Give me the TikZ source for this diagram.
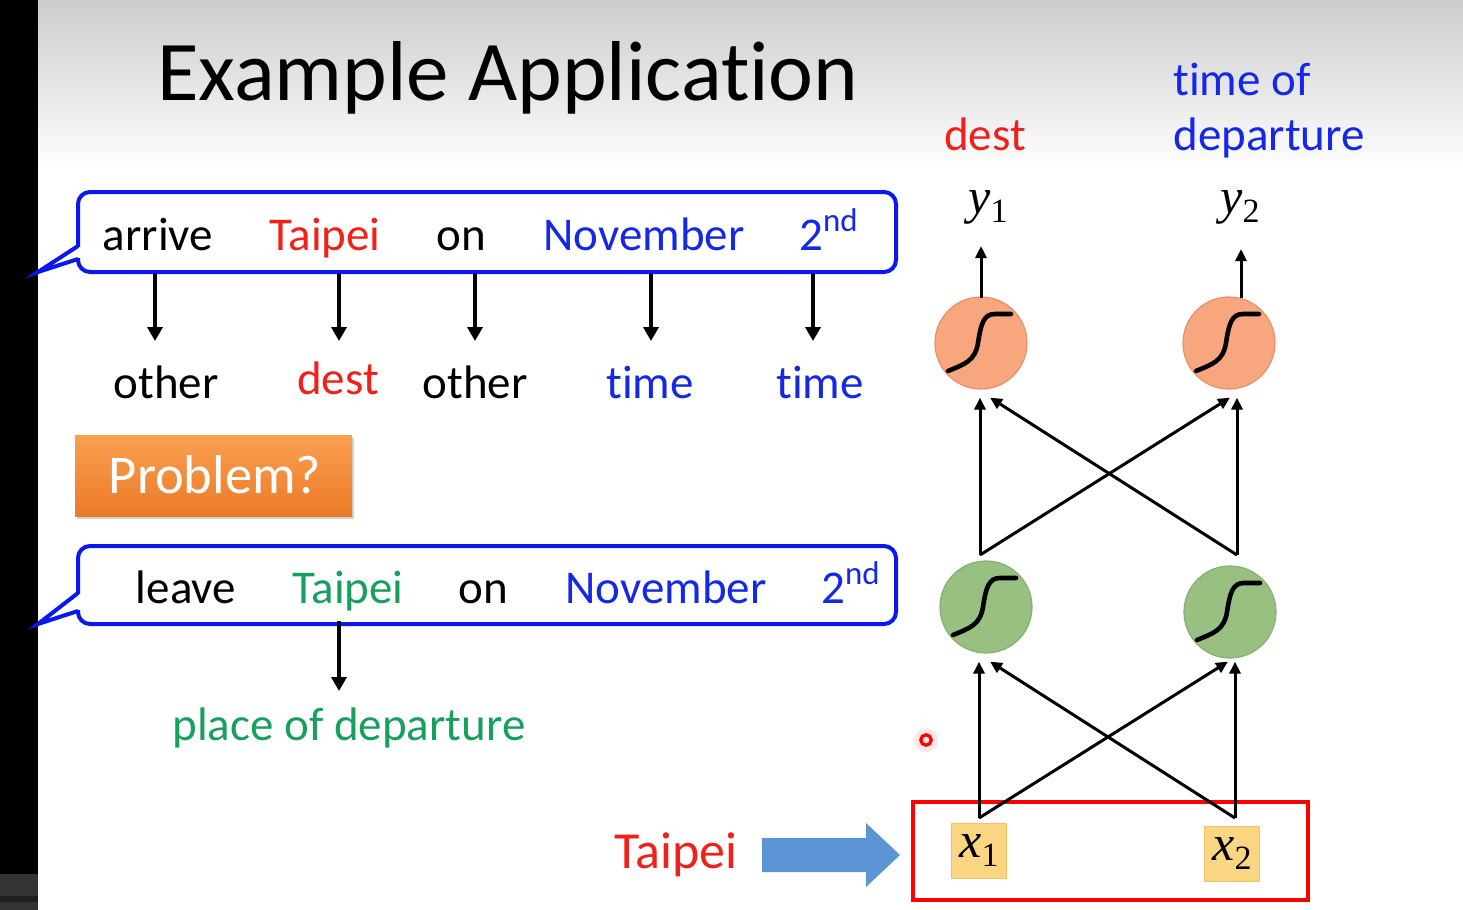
\documentclass[tikz,border=0pt]{standalone}
\usepackage{fontspec}
\setmainfont{Carlito}[Ligatures=NoCommon]
\newfontfamily\tms{Liberation Serif}
\usetikzlibrary{arrows.meta,shadows}
\definecolor{tblue}{HTML}{1428E6}
\definecolor{tred}{HTML}{F0201A}
\definecolor{tgreen}{HTML}{16A05C}
\definecolor{boxblue}{HTML}{0A18F0}
\definecolor{orfill}{HTML}{F7A67E}
\definecolor{ordraw}{HTML}{E8906A}
\definecolor{grfill}{HTML}{98C080}
\definecolor{grdraw}{HTML}{86B070}
\definecolor{xfill}{HTML}{FAD682}
\definecolor{xdraw}{HTML}{EEC265}
\definecolor{barrow}{HTML}{5B95D6}
\definecolor{probtop}{HTML}{F8A050}
\definecolor{probbot}{HTML}{EC7A28}
\newcommand\sigcurve[1]{\draw[line width=2.3pt, line cap=round, shift={(#1.center)}]
  (-33,28) .. controls (-16,21) and (-6,18) .. (-3,0) .. controls (0,-20) and (3,-29) .. (14,-29) -- (30,-29);}
\newcommand\subsc[1]{\raisebox{-4.5pt}{\fontsize{17}{17}\selectfont\upshape #1}}
\begin{document}
\begin{tikzpicture}[x=0.5pt,y=-0.5pt,
  word/.style={font=\fontsize{23.5}{28}\selectfont, anchor=base, inner sep=0pt},
  callout/.style={draw=boxblue, line width=2pt, rounded corners=6pt},
  tail/.style={draw=boxblue, line width=2pt, line join=miter},
  arr/.style={line width=2pt, -{Triangle[width=7.5pt,length=7pt]}},
  net/.style={line width=1.5pt, -{Triangle[width=5.5pt,length=6pt]}},
  orn/.style={circle, fill=orfill, draw=ordraw, line width=0.6pt, minimum size=46pt, inner sep=0pt},
  grn/.style={circle, fill=grfill, draw=grdraw, line width=0.6pt, minimum size=46pt, inner sep=0pt},
  xin/.style={rectangle, fill=xfill, draw=xdraw, line width=0.6pt, minimum size=27.5pt, inner sep=0pt,
     font=\tms\itshape\fontsize{25}{25}\selectfont},
  ylab/.style={font=\tms\itshape\fontsize{25}{25}\selectfont, anchor=base, inner sep=0pt}]
\useasboundingbox (0,0) rectangle (1463,910);
% background
\fill[white] (0,0) rectangle (1463,910);
\shade[top color=black!20, bottom color=white] (38,0) rectangle (1463,170);
\fill[black] (0,0) rectangle (38,910);
\fill[black!80] (0,874) rectangle (38,910);
\fill[black!88] (0,896) rectangle (38,902);
% title
\node[font=\fontsize{42.5}{48}\selectfont, anchor=base, inner sep=0pt] (title) at (508,100) {Example Application};
% top callout
\node[callout, minimum width=409pt, minimum height=40pt, inner sep=0pt] (box1) at (487,232) {};
\fill[white] (75,247) rectangle (84,258);
\draw[tail] (78,246) -- (38,272) -- (78,259);
\node[word] (t1) at (158,250) {arrive};
\node[word, text=tred] (t2) at (325,250) {Taipei};
\node[word] (t3) at (461,250) {on};
\node[word, text=tblue] (t4) at (644,250) {November};
\node[word, text=tblue] (t5) at (829,250) {2\textsuperscript{nd}};
% labels
\node[word] (l1) at (166,398) {other};
\node[word, text=tred] (l2) at (338,394) {dest};
\node[word] (l3) at (475,398) {other};
\node[word, text=tblue] (l4) at (650,398) {time};
\node[word, text=tblue] (l5) at (820,398) {time};
\foreach \i/\x in {1/155,2/339,3/475,4/651,5/813}{
  \coordinate (as\i) at (\x,274);
  \coordinate (ae\i) at (\x,341);
  \draw[arr] (as\i) -- (ae\i);
}
% problem box
\node[rectangle, top color=probtop, bottom color=probbot, minimum width=138.5pt, minimum height=40.5pt,
  inner sep=0pt, drop shadow={shadow xshift=1.2pt, shadow yshift=-1.5pt, opacity=0.35}] (prob) at (213.5,475.5) {};
\node[font=\fontsize{27.3}{30}\selectfont, text=white, anchor=base, inner sep=0pt] (probt) at (215,493) {Problem?};
% bottom callout
\node[callout, minimum width=409pt, minimum height=39pt, inner sep=0pt] (box2) at (487,585) {};
\fill[white] (75,594) rectangle (84,610);
\draw[tail] (78,593) -- (38,624) -- (78,611);
\node[word] (b1) at (186,603) {leave};
\node[word, text=tgreen] (b2) at (348,603) {Taipei};
\node[word] (b3) at (483,603) {on};
\node[word, text=tblue] (b4) at (666,603) {November};
\node[word, text=tblue] (b5) at (851,603) {2\textsuperscript{nd}};
\coordinate (ps) at (339,621);
\coordinate (pe) at (339,691);
\draw[arr] (ps) -- (pe);
\node[word, text=tgreen] (pod) at (349,740) {place of departure};
% right labels
\node[word, text=tred] (dest) at (985,150) {dest};
\node[word, text=tblue, anchor=base west] (tof) at (1173,95) {time of};
\node[word, text=tblue, anchor=base west] (dep) at (1173,150) {departure};
\node[ylab] (y1) at (988,213) {y\subsc{1}};
\node[ylab] (y2) at (1240,213) {y\subsc{2}};
% bottom-left taipei and block arrow
\node[font=\fontsize{26}{30}\selectfont, text=tred, anchor=base, inner sep=0pt] (tp) at (676,868) {Taipei};
\fill[barrow] (762,838) -- (866,838) -- (866,823) -- (900,855) -- (866,887) -- (866,872) -- (762,872) -- cycle;
% input box
\draw[red, line width=2pt] (913,802) rectangle (1308,900);
\node[xin] (x1) at (979,851) {x\subsc{1}};
\node[xin] (x2) at (1232,854) {x\subsc{2}};
% neurons
\node[grn] (g1) at (986,607) {};
\node[grn] (g2) at (1230,612) {};
\node[orn] (o1) at (981,343) {};
\node[orn] (o2) at (1229,343) {};
\sigcurve{g1}\sigcurve{g2}\sigcurve{o1}\sigcurve{o2}
% connections
\coordinate (x1t) at (979,818);
\coordinate (x2t) at (1235,818);
\coordinate (g1t) at (980,555);
\coordinate (g2t) at (1237,555);
\coordinate (o1t) at (981,298);
\coordinate (o2t) at (1241,298);
\coordinate (y1b) at (981,246);
\coordinate (y2b) at (1241,249);
\draw[net] (x1t) -- ([xshift=-3.5pt,yshift=-4pt]g1.south);
\draw[net] (x1t) -- ([xshift=-1pt,yshift=-1.5pt]g2.south);
\draw[net] (x2t) -- ([xshift=2.5pt,yshift=-1.5pt]g2.south);
\draw[net] (x2t) -- ([xshift=2pt,yshift=-4pt]g1.south);
\draw[net] (g1t) -- ([xshift=-0.5pt,yshift=-4pt]o1.south);
\draw[net] (g1t) -- ([xshift=0.5pt,yshift=-4pt]o2.south);
\draw[net] (g2t) -- ([xshift=4pt,yshift=-4pt]o2.south);
\draw[net] (g2t) -- ([xshift=4.5pt,yshift=-4pt]o1.south);
\draw[net] (o1t) -- (y1b);
\draw[net] (o2t) -- (y2b);
% laser pointer dot
\fill[red, opacity=0.10] (926,740) circle (6pt);
\draw[red, line width=1.6pt] (926,740) circle (2.6pt);
\end{tikzpicture}
\end{document}
